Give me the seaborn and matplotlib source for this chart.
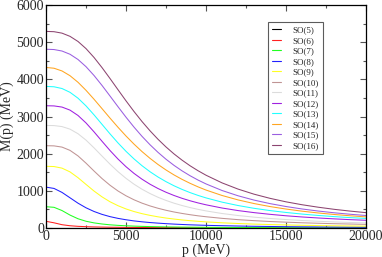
import matplotlib
matplotlib.use("Agg")
import matplotlib.pyplot as plt
import seaborn as sns
import pandas as pd
from matplotlib.ticker import MultipleLocator

# momentum grid (MeV) and M(p) values
p = [0, 500, 1000, 1500, 2000, 2500, 3000, 3500, 4000, 4500, 5000,
     5500, 6000, 6500, 7000, 7500, 8000, 8500, 9000, 9500, 10000,
     11000, 12000, 13000, 14000, 15000, 16000, 17000, 18000, 19000, 20000]
so5 = [0] * 31
so6 = [180, 140, 89, 61, 45, 36, 29, 25, 21, 19, 16, 15, 13, 12, 11, 10,
       10, 9, 8, 8, 7, 7, 6, 6, 5, 5, 4, 4, 4, 4, 3]
so7 = [573, 557, 470, 348, 249, 182, 138, 108, 86, 71, 60, 51, 44, 38, 34,
       30, 27, 24, 22, 20, 18, 16, 13, 12, 10, 9, 8, 7, 7, 6, 6]
so8 = [1100, 1065, 958, 813, 668, 544, 445, 367, 306, 259, 222, 191, 167,
       147, 131, 117, 105, 95, 86, 79, 72, 62, 53, 46, 41, 36, 32, 29, 27, 24, 22]
so9 = [1660, 1654, 1611, 1510, 1354, 1173, 995, 838, 706, 600, 513, 443,
       386, 340, 301, 268, 241, 217, 197, 180, 165, 140, 121, 105, 93, 82, 73,
       66, 60, 55, 50]
so10 = [2215, 2210, 2177, 2089, 1940, 1745, 1534, 1331, 1151, 996, 867, 759,
        669, 594, 531, 477, 431, 392, 358, 328, 303, 260, 225, 198, 175, 157,
        141, 128, 116, 107, 98]
so11 = [2760, 2756, 2729, 2660, 2537, 2365, 2157, 1936, 1718, 1516, 1336,
        1179, 1043, 927, 827, 742, 668, 605, 550, 502, 460, 390, 336, 292, 256,
        227, 202, 181, 164, 149, 136]
so12 = [3290, 3285, 3254, 3172, 3028, 2827, 2588, 2334, 2085, 1855, 1649,
        1469, 1313, 1178, 1062, 962, 875, 799, 733, 675, 624, 538, 469, 414,
        368, 329, 297, 270, 246, 225, 208]
so13 = [3810, 3800, 3753, 3651, 3493, 3286, 3045, 2789, 2533, 2289, 2063,
        1859, 1676, 1514, 1372, 1247, 1136, 1039, 953, 877, 810, 696, 605, 530,
        469, 418, 375, 338, 307, 280, 257]
so14 = [4320, 4299, 4226, 4098, 3921, 3705, 3465, 3212, 2957, 2710, 2475,
        2257, 2056, 1874, 1709, 1561, 1428, 1309, 1203, 1107, 1021, 875, 756,
        658, 577, 510, 453, 405, 364, 329, 299]
so15 = [4810, 4802, 4762, 4675, 4534, 4341, 4104, 3836, 3551, 3263, 2981,
        2714, 2466, 2240, 2035, 1850, 1685, 1538, 1407, 1290, 1186, 1009, 867,
        751, 656, 578, 512, 457, 410, 370, 336]
so16 = [5290, 5282, 5243, 5157, 5019, 4827, 4589, 4316, 4022, 3720, 3421,
        3134, 2864, 2615, 2387, 2180, 1993, 1826, 1675, 1541, 1420, 1214, 1047,
        910, 798, 704, 626, 560, 503, 455, 413]

series = {
    "SO(5)": so5, "SO(6)": so6, "SO(7)": so7, "SO(8)": so8,
    "SO(9)": so9, "SO(10)": so10, "SO(11)": so11, "SO(12)": so12,
    "SO(13)": so13, "SO(14)": so14, "SO(15)": so15, "SO(16)": so16,
}
colors = ["#000000", "#ff2020", "#20ff20", "#2020ff", "#ffff20", "#c09494",
          "#dcdcdc", "#a020e0", "#20ffff", "#ffa520", "#9a5ee0", "#8c4470"]

df = pd.concat(
    [pd.DataFrame({"p": p, "M": v, "group": k}) for k, v in series.items()],
    ignore_index=True,
)

sns.set_style("ticks")
plt.rcParams["font.family"] = ["Liberation Serif", "DejaVu Serif"]

fig = plt.figure(figsize=(3.82, 2.57), dpi=100)
ax = fig.add_axes([0.1204, 0.1128, 0.838, 0.8677])

sns.lineplot(data=df, x="p", y="M", hue="group", palette=colors,
             linewidth=0.75, ax=ax, legend=True)

ax.set_xlim(0, 20000)
ax.set_ylim(0, 6000)
ax.xaxis.set_major_locator(MultipleLocator(5000))
ax.xaxis.set_minor_locator(MultipleLocator(2500))
ax.yaxis.set_major_locator(MultipleLocator(1000))
ax.yaxis.set_minor_locator(MultipleLocator(500))
ax.tick_params(which="both", direction="in", top=True, right=True,
               labelsize=10, width=0.8, color="#555555", pad=1.5)
ax.tick_params(which="major", length=4)
ax.tick_params(which="minor", length=2)
for s in ax.spines.values():
    s.set_linewidth(0.9)
    s.set_color("black")

ax.set_xlabel("p (MeV)", fontsize=10)
ax.xaxis.set_label_coords(0.5, -0.07)
ax.set_ylabel("M(p) (MeV)", fontsize=10, labelpad=2)

leg = ax.legend(loc="upper left", bbox_to_anchor=(0.694, 0.924), fontsize=6.5,
                frameon=True, fancybox=False, handlelength=1.0,
                handletextpad=1.2, labelspacing=0.24, borderpad=0.45,
                borderaxespad=0)
leg.get_frame().set_edgecolor("#333333")
leg.get_frame().set_linewidth(0.8)
for h in leg.get_lines():
    h.set_linewidth(0.8)

fig.savefig("out.png", dpi=100)
